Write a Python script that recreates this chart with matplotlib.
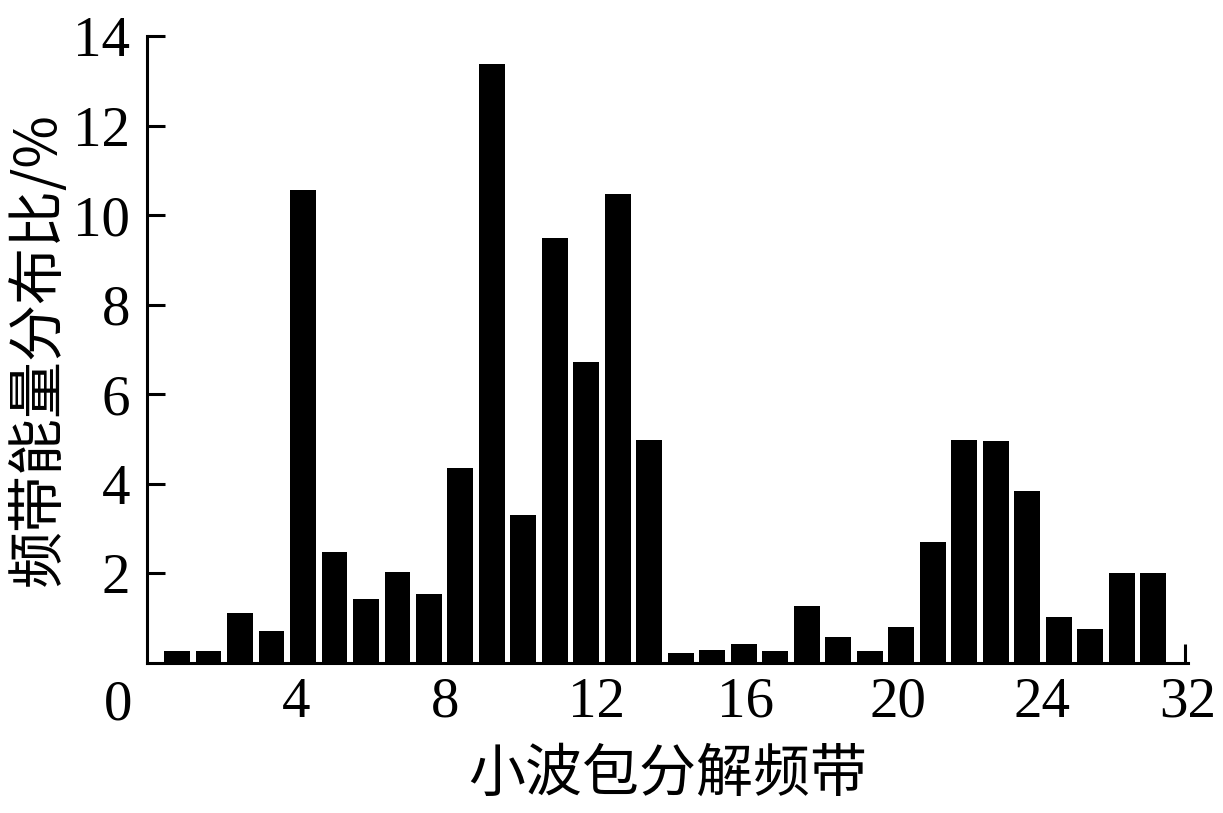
import matplotlib
matplotlib.use('Agg')
import matplotlib.pyplot as plt
import numpy as np

# 小波包分解频带 1-32 的能量占比（%）
bands = np.arange(1, 33)
energy_pct = [0.27, 0.27, 1.11, 0.72, 10.56, 2.48, 1.44, 2.04,
              1.55, 4.36, 13.37, 3.30, 9.50, 6.72, 10.48, 4.99,
              0.22, 0.29, 0.42, 0.27, 1.27, 0.58, 0.27, 0.80,
              2.70, 4.97, 4.95, 3.83, 1.03, 0.76, 2.02, 2.00]

x_tick_labels = ['4', '8', '12', '16', '20', '24', '32']
y_ticks = [2, 4, 6, 8, 10, 12, 14]

serif = ['Liberation Serif', 'DejaVu Serif']
cjk = ['Noto Sans CJK SC', 'DejaVu Sans']
fs = 41

fig = plt.figure(figsize=(12.23, 8.13), dpi=100)
ax = fig.add_axes([0.1202, 0.1845, 0.8512, 0.7712])

ax.bar(bands, energy_pct, width=0.82, color='black', edgecolor='none')

ax.set_xlim(0.05, 33.05)
ax.set_ylim(0, 14)

# 原图的横坐标标注位置与柱子并不对齐，按图中位置放置
x_tick_pos = [4.77, 9.52, 14.31, 19.06, 23.88, 28.46, 33.1]
ax.set_xticks(x_tick_pos)
ax.set_xticklabels(x_tick_labels, fontfamily=serif, fontsize=fs)
ax.set_xticks([33.0], minor=True)
ax.tick_params(axis='x', which='major', length=0, pad=10)
ax.tick_params(axis='x', which='minor', direction='in', length=14, width=2.2)

ax.set_yticks(y_ticks)
ax.set_yticklabels([str(v) for v in y_ticks], fontfamily=serif, fontsize=fs)
ax.tick_params(axis='y', direction='in', length=13, width=2.2, pad=12)

# 原点 "0"
ax.text(-0.87, -0.027, '0', transform=ax.get_xaxis_transform(),
        ha='center', va='top', fontsize=fs, fontfamily=serif)

for s in ['top', 'right']:
    ax.spines[s].set_visible(False)
for s in ['left', 'bottom']:
    ax.spines[s].set_linewidth(2.2)

ax.set_xlabel('小波包分解频带', fontfamily=cjk, fontsize=fs, labelpad=12)
ax.set_ylabel('频带能量分布比/%', fontfamily=cjk, fontsize=fs, labelpad=4)

fig.savefig('out.png', dpi=100)
